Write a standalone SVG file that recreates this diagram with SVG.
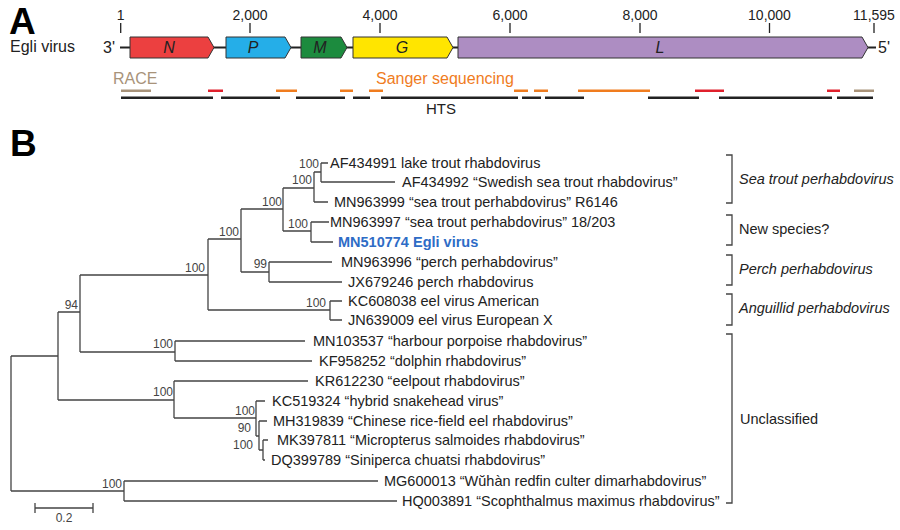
<svg xmlns="http://www.w3.org/2000/svg" width="900" height="530" viewBox="0 0 900 530">
<style>
text{font-family:"Liberation Sans",Arial,sans-serif;fill:#222}
.panel{font-weight:bold;font-size:37px;fill:#000}
.tick{font-size:14px;text-anchor:middle}
.gene{font-size:16px;font-style:italic;text-anchor:middle}
.gbox{stroke:#333;stroke-width:1}
.seg{stroke-width:2.6;fill:none}
.tip{font-size:14.5px}
.bs{font-size:12px;fill:#444;text-anchor:end}
.clade{font-size:14.5px}
.br{stroke:#444;stroke-width:1.3;fill:none}
</style>
<rect width="900" height="530" fill="#fff"/>
<!-- Panel A -->
<text class="panel" x="9" y="34">A</text>
<text x="10" y="52" font-size="16">Egli virus</text>
<text x="103" y="53" font-size="16">3'</text>
<text x="878" y="53" font-size="16">5'</text>
<g id="ticks" stroke="#222" stroke-width="1.3">
<path d="M120.7 23V33M250 23V33M380 23V33M510 23V33M640 23V33M769.5 23V33M874 23V33"/>
</g>
<g id="tick-labels">
<text class="tick" x="120.7" y="20">1</text>
<text class="tick" x="250" y="20">2,000</text>
<text class="tick" x="380" y="20">4,000</text>
<text class="tick" x="510" y="20">6,000</text>
<text class="tick" x="640" y="20">8,000</text>
<text class="tick" x="769.5" y="20">10,000</text>
<text class="tick" x="874" y="20">11,595</text>
</g>
<line x1="120" y1="47.5" x2="876" y2="47.5" stroke="#222" stroke-width="2"/>
<g id="gene-N"><path class="gbox" fill="#ec4040" d="M130 37H208L214 47.5L208 58H130Z"/><text class="gene" x="169" y="53">N</text></g>
<g id="gene-P"><path class="gbox" fill="#25aee8" d="M226 37H285L291 47.5L285 58H226Z"/><text class="gene" x="253" y="53">P</text></g>
<g id="gene-M"><path class="gbox" fill="#1c8b3e" d="M301 37H341L347 47.5L341 58H301Z"/><text class="gene" x="320" y="53">M</text></g>
<g id="gene-G"><path class="gbox" fill="#ffe500" d="M353 37H447L453 47.5L447 58H353Z"/><text class="gene" x="402" y="53">G</text></g>
<g id="gene-L"><path class="gbox" fill="#ad8dc2" d="M458 37H862L868 47.5L862 58H458Z"/><text class="gene" x="660" y="53">L</text></g>
<text x="113" y="84" font-size="16" style="fill:#a8937a">RACE</text>
<text x="376" y="84" font-size="16" style="fill:#f07c1e">Sanger sequencing</text>
<text x="441" y="114" font-size="15" text-anchor="middle">HTS</text>
<g id="coverage">
<path class="seg" stroke="#a8937a" d="M121 90.7H151M854 90.7H874"/>
<path class="seg" stroke="#e0202c" d="M208 90.7H223M695 90.7H724M827 90.7H840"/>
<path class="seg" stroke="#f07c1e" d="M276 90.7H297M340 90.7H353M369 90.7H383M514 90.7H528M534 90.7H548M578 90.7H650"/>
<path class="seg" stroke="#222" d="M121 97.7H213M221 97.7H280M296 97.7H345M353 97.7H370M381 97.7H518M522 97.7H541M545 97.7H584M648 97.7H699M719 97.7H832M837 97.7H873"/>
</g>
<!-- Panel B -->
<text class="panel" x="10" y="156">B</text>
<g id="connectors" stroke="#444" stroke-width="1.3" fill="none">
<path d="M11 356V491M11 356H58M11 491H124
M58 312V400M58 312H80M58 400H174
M80 275V352M80 275H208M80 352H175
M208 239V310M208 239H241M208 310H330
M241 209V272M241 209H283M241 272H269
M283 188V231M283 188H314M283 231H311
M314 172V202M314 172H321M314 202H328
M321 163V182M321 163H328M321 182H395
M311 222V242M311 222H329M311 242H333
M269 262V282M269 262H332M269 282H342
M330 301V320M330 301H342M330 320H342
M175 341V361M175 341H305M175 361H312
M174 381V418M174 381H308M174 418H256
M256 401V436M256 401H265M256 436H259
M259 421V450M259 421H267M259 450H263
M263 440V460M263 440H268M263 460H265
M124 481V501M124 481H378M124 501H397"/>
</g>
<g id="bootstrap">
<text class="bs" x="319" y="168">100</text>
<text class="bs" x="312" y="184">100</text>
<text class="bs" x="282" y="206">100</text>
<text class="bs" x="308" y="228">100</text>
<text class="bs" x="239" y="236">100</text>
<text class="bs" x="267" y="268">99</text>
<text class="bs" x="205" y="272">100</text>
<text class="bs" x="326" y="307">100</text>
<text class="bs" x="78" y="309">94</text>
<text class="bs" x="173" y="348">100</text>
<text class="bs" x="173" y="396">100</text>
<text class="bs" x="255" y="415">100</text>
<text class="bs" x="251" y="432">90</text>
<text class="bs" x="253" y="449">100</text>
<text class="bs" x="122" y="488">100</text>
</g>
<g id="tips">
<g id="tip-AF434991"><text class="tip" x="330" y="168">AF434991 lake trout rhabdovirus</text></g>
<g id="tip-AF434992"><text class="tip" x="402" y="187">AF434992 “Swedish sea trout rhabdovirus”</text></g>
<g id="tip-MN963999"><text class="tip" x="334" y="207">MN963999 “sea trout perhabdovirus” R6146</text></g>
<g id="tip-MN963997"><text class="tip" x="330" y="227">MN963997 “sea trout perhabdovirus” 18/203</text></g>
<g id="tip-MN510774"><text class="tip" x="338" y="247" font-weight="bold" style="fill:#2e6cc6">MN510774 Egli virus</text></g>
<g id="tip-MN963996"><text class="tip" x="341" y="267">MN963996 “perch perhabdovirus”</text></g>
<g id="tip-JX679246"><text class="tip" x="348" y="287">JX679246 perch rhabdovirus</text></g>
<g id="tip-KC608038"><text class="tip" x="348" y="306">KC608038 eel virus American</text></g>
<g id="tip-JN639009"><text class="tip" x="348" y="325">JN639009 eel virus European X</text></g>
<g id="tip-MN103537"><text class="tip" x="313" y="346">MN103537 “harbour porpoise rhabdovirus”</text></g>
<g id="tip-KF958252"><text class="tip" x="319" y="366">KF958252 “dolphin rhabdovirus”</text></g>
<g id="tip-KR612230"><text class="tip" x="315" y="386">KR612230 “eelpout rhabdovirus”</text></g>
<g id="tip-KC519324"><text class="tip" x="272" y="406">KC519324 “hybrid snakehead virus”</text></g>
<g id="tip-MH319839"><text class="tip" x="273" y="426">MH319839 “Chinese rice-field eel rhabdovirus”</text></g>
<g id="tip-MK397811"><text class="tip" x="277" y="445">MK397811 “Micropterus salmoides rhabdovirus”</text></g>
<g id="tip-DQ399789"><text class="tip" x="271" y="465">DQ399789 “Siniperca chuatsi rhabdovirus”</text></g>
<g id="tip-MG600013"><text class="tip" x="384" y="486">MG600013 “Wŭhàn redfin culter dimarhabdovirus”</text></g>
<g id="tip-HQ003891"><text class="tip" x="402" y="506">HQ003891 “Scophthalmus maximus rhabdovirus”</text></g>
</g>
<g id="clades">
<g id="clade-seatrout"><path class="br" d="M726 155H732V203H726"/><text class="clade" x="739" y="184" font-style="italic">Sea trout perhabdovirus</text></g>
<g id="clade-new"><path class="br" d="M726 215H732V245H726"/><text class="clade" x="739" y="234">New species?</text></g>
<g id="clade-perch"><path class="br" d="M726 255H732V285H726"/><text class="clade" x="739" y="274" font-style="italic">Perch perhabdovirus</text></g>
<g id="clade-anguillid"><path class="br" d="M726 294H732V325H726"/><text class="clade" x="739" y="313" font-style="italic">Anguillid perhabdovirus</text></g>
<g id="clade-unclassified"><path class="br" d="M726 334H732V503H726"/><text class="clade" x="740" y="424">Unclassified</text></g>
</g>
<g id="scalebar">
<path d="M35 508H93M35 503V513M93 503V513" stroke="#444" stroke-width="1.3" fill="none"/>
<text x="64" y="522" font-size="12" text-anchor="middle" style="fill:#444">0.2</text>
</g>
</svg>
